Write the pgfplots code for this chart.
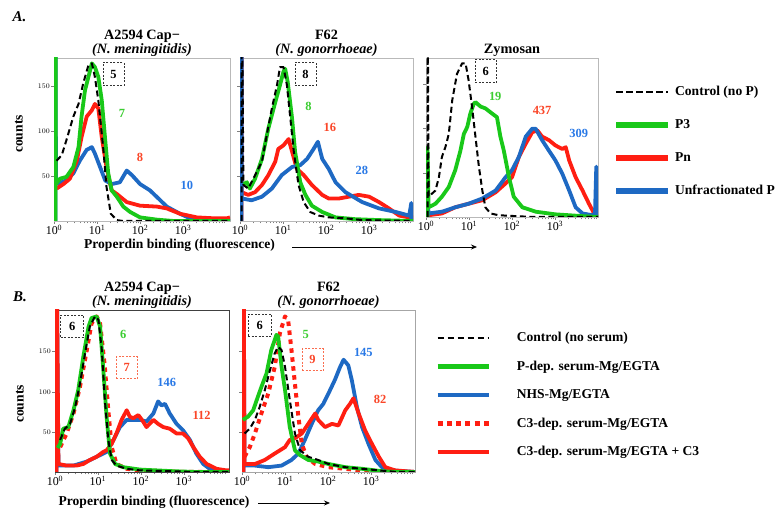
\documentclass[border=0pt]{standalone}
\usepackage{fontspec}
\setmainfont{Liberation Serif}
\usepackage{pgfplots}
\pgfplotsset{compat=1.18}
\usetikzlibrary{arrows.meta}

\definecolor{cG}{RGB}{25,200,25}
\definecolor{cR}{RGB}{255,30,18}
\definecolor{cB}{RGB}{30,105,195}
\definecolor{tG}{RGB}{60,205,50}
\definecolor{tR}{RGB}{250,70,40}
\definecolor{tB}{RGB}{40,120,230}
\definecolor{rbox}{RGB}{250,110,80}

\newcommand{\ttlfont}{\fontsize{14.3}{14}\selectfont\bfseries}
\newcommand{\labfont}{\fontsize{13.6}{14}\selectfont\bfseries}
\newcommand{\numfont}{\fontsize{12.5}{13}\selectfont\bfseries}

\pgfplotsset{
  hist/.style={
    scale only axis, anchor=south west,
    xmin=0, ymin=0,
    xtick={0,1,2,3},
    xticklabels={10\textsuperscript{0},10\textsuperscript{1},10\textsuperscript{2},10\textsuperscript{3}},
    minor xtick={0.301,0.477,0.602,0.699,0.778,0.845,0.903,0.954,
                 1.301,1.477,1.602,1.699,1.778,1.845,1.903,1.954,
                 2.301,2.477,2.602,2.699,2.778,2.845,2.903,2.954,
                 3.301,3.477,3.602,3.699,3.778,3.845,3.903,3.954},
    ytick={50,100,150},
    tick align=outside, xtick pos=bottom, ytick pos=left,
    major tick length=3bp, minor tick length=2.5bp,
    tick style={gray, line width=0.5bp},
    xticklabel style={font=\fontsize{12}{12}\selectfont, inner sep=1bp},
    yticklabel style={font=\fontsize{7}{7}\selectfont, inner sep=1bp},
    axis line style={gray!55, line width=0.8bp},
    clip mode=individual,
    title style={font=\ttlfont, align=center, inner sep=0bp, yshift=-4.5bp},
    legend cell align=left,
  },
  ctl/.style={black, line width=2bp, dash pattern=on 6bp off 3.5bp},
  grn/.style={cG, line width=3.8bp},
  rd/.style={cR, line width=3.8bp},
  bl/.style={cB, line width=3.8bp},
  rdot/.style={cR, line width=4bp, dash pattern=on 4.5bp off 4.5bp},
  every axis plot/.append style={no marks, forget plot, line join=round},
}

\begin{document}
\begin{tikzpicture}
\path[use as bounding box] (0,0) rectangle (776bp,512bp);

%---------------- A1
\begin{axis}[hist, at={(54bp,291bp)}, width=176bp, height=163bp,
  xmax=4.09, ymax=181,
  title={A2594 Cap−\\\textit{(N. meningitidis)}}]
\addplot[bl] coordinates {(0.035,0)(0.035,300)(0.045,41)(0.29,45)(0.45,53)(0.60,67)(0.76,79)(0.88,82)(0.95,75)(1.07,60)(1.19,45)(1.34,41)(1.53,43)(1.69,56)(1.81,51)(2.0,41)(2.23,34)(2.47,23)(2.62,16)(2.93,8)(3.16,3)(3.55,1)(4.09,0)};
\addplot[rd] coordinates {(0.06,36)(0.22,41)(0.37,47)(0.53,67)(0.64,93)(0.76,116)(0.88,123)(0.95,130)(1.03,125)(1.11,93)(1.22,60)(1.34,34)(1.46,30)(1.69,21)(2.0,17)(2.39,16)(2.62,14)(2.93,8)(3.32,4)(3.71,3)(4.02,3)(4.09,4)};
\addplot[grn] coordinates {(0.035,0)(0.035,300)(0.04,41)(0.14,47)(0.29,49)(0.45,60)(0.57,82)(0.64,116)(0.72,145)(0.80,160)(0.88,175)(0.95,171)(1.03,160)(1.11,134)(1.19,90)(1.26,53)(1.34,34)(1.46,27)(1.61,16)(1.77,10)(2.0,4)(2.39,1.5)(2.78,0)(4.09,0)};
\addplot[ctl] coordinates {(0.06,67)(0.18,73)(0.29,90)(0.45,116)(0.57,130)(0.68,153)(0.80,173)(0.88,175)(0.95,160)(1.03,134)(1.15,78)(1.22,38)(1.32,8)(1.46,1)(1.6,0)(4.09,0)};
\node[draw=black!80, dash pattern=on 2bp off 1.5bp, line width=0.7bp, minimum width=21bp, minimum height=23bp, inner sep=0pt, font=\numfont] at (axis cs:1.38,163) {5};
\node[font=\numfont, text=tG] at (axis cs:1.58,120) {7};
\node[font=\numfont, text=tR] at (axis cs:2.0,71) {8};
\node[font=\numfont, text=tB] at (axis cs:3.09,40) {10};
\end{axis}

%---------------- A2
\begin{axis}[hist, at={(240bp,291bp)}, width=173bp, height=163bp,
  xmax=4.02, ymax=181, yticklabels={},
  title={F62\\\textit{(N. gonorrhoeae)}}]
\addplot[rd] coordinates {(0.035,0)(0.035,300)(0.04,32)(0.19,29)(0.35,32)(0.51,40)(0.66,51)(0.82,66)(0.89,80)(1.01,84)(1.13,91)(1.21,77)(1.32,58)(1.48,51)(1.67,40)(1.91,29)(2.06,25)(2.30,25)(2.53,27)(2.76,29)(3.0,27)(3.23,21)(3.46,14)(3.70,6)(3.93,4)(4.02,4)};
\addplot[bl] coordinates {(0.035,0)(0.035,300)(0.04,25)(0.27,23)(0.51,27)(0.74,36)(0.97,51)(1.21,60)(1.40,62)(1.56,69)(1.71,80)(1.81,88)(1.91,69)(2.06,58)(2.22,43)(2.45,32)(2.84,21)(3.23,14)(3.62,10)(3.93,6)(3.96,14)(3.98,20)(3.98,0)};
\addplot[grn] coordinates {(0.08,41)(0.16,43)(0.23,36)(0.35,47)(0.51,69)(0.66,103)(0.82,132)(0.93,151)(1.01,166)(1.05,169)(1.11,154)(1.21,114)(1.28,77)(1.40,43)(1.52,29)(1.67,17)(1.91,10)(2.22,4)(2.68,2)(3.23,1)(4.02,0)};
\addplot[ctl] coordinates {(0.035,0)(0.035,300)(0.08,40)(0.19,36)(0.31,47)(0.51,66)(0.62,95)(0.74,125)(0.86,151)(0.93,171)(1.01,171)(1.09,151)(1.17,114)(1.25,77)(1.36,40)(1.48,21)(1.63,10)(1.83,6)(2.06,4)(2.45,3)(2.84,1)(4.02,0)};
\node[draw=black!80, dash pattern=on 2bp off 1.5bp, line width=0.7bp, minimum width=21bp, minimum height=23bp, inner sep=0pt, font=\numfont] at (axis cs:1.52,163) {8};
\node[font=\numfont, text=tG] at (axis cs:1.59,127) {8};
\node[font=\numfont, text=tR] at (axis cs:2.09,104) {16};
\node[font=\numfont, text=tB] at (axis cs:2.83,56) {28};
\end{axis}

%---------------- A3
\begin{axis}[hist, at={(426bp,295bp)}, width=172bp, height=159bp,
  xmax=4.0, ymax=180, yticklabels={},
  title={Zymosan},
  legend style={at={(1.087,0.824)}, anchor=north west, draw=none, fill=none,
    inner sep=0pt, row sep=21bp, font=\labfont,
    nodes={inner sep=0pt, text height=9.5bp, text depth=2.5bp},
    /tikz/every odd column/.append style={column sep=4bp}},
  legend image code/.code={\draw[#1] (0bp,0bp) -- (52bp,0bp);}]
\addplot[rd] coordinates {(0.06,2)(0.37,4)(0.68,11)(0.99,15)(1.31,19)(1.62,28)(1.85,38)(2.0,45)(2.16,68)(2.32,83)(2.47,96)(2.59,98)(2.70,91)(2.86,87)(3.01,81)(3.17,77)(3.25,79)(3.33,64)(3.48,45)(3.64,30)(3.79,15)(3.91,4)(4.0,0)};
\addplot[bl] coordinates {(0.035,0)(0.035,20)(0.06,4)(0.37,6)(0.68,11)(0.99,15)(1.31,21)(1.62,30)(1.85,45)(2.0,53)(2.16,68)(2.32,91)(2.47,100)(2.55,100)(2.70,87)(2.86,75)(3.01,64)(3.17,49)(3.33,30)(3.48,11)(3.64,4)(3.87,2)(3.93,4)(3.96,57)(3.96,0)};
\addplot[grn] coordinates {(0.035,0)(0.035,79)(0.06,11)(0.22,15)(0.37,23)(0.53,34)(0.68,53)(0.80,75)(0.88,94)(0.96,102)(1.03,117)(1.11,128)(1.15,130)(1.27,125)(1.38,123)(1.54,117)(1.65,113)(1.73,91)(1.81,75)(1.93,45)(2.04,23)(2.24,11)(2.55,6)(3.01,3)(3.64,1)(4.0,0)};
\addplot[ctl] coordinates {(0.035,0)(0.035,300)(0.06,23)(0.22,30)(0.30,45)(0.37,68)(0.45,79)(0.53,94)(0.61,132)(0.72,162)(0.84,174)(0.92,174)(0.99,155)(1.07,125)(1.15,91)(1.23,57)(1.31,30)(1.38,11)(1.50,4)(1.69,2)(2.08,1)(2.5,0)(4.0,0)};
\node[draw=black!80, dash pattern=on 2bp off 1.5bp, line width=0.7bp, minimum width=21bp, minimum height=23bp, inner sep=0pt, font=\numfont] at (axis cs:1.39,165) {6};
\node[font=\numfont, text=tG] at (axis cs:1.61,136) {19};
\node[font=\numfont, text=tR] at (axis cs:2.70,121) {437};
\node[font=\numfont, text=tB] at (axis cs:3.55,95) {309};
\addlegendimage{black, line width=2bp, dash pattern=on 6.7bp off 3.3bp}
\addlegendentry{Control (no P)}
\addlegendimage{cG, line width=6bp}
\addlegendentry{P3}
\addlegendimage{cR, line width=6bp}
\addlegendentry{Pn}
\addlegendimage{cB, line width=6bp}
\addlegendentry{Unfractionated P}
\end{axis}

%---------------- B1
\begin{axis}[hist, at={(55bp,40bp)}, width=174bp, height=162bp,
  xmax=4.05, ymax=202, axis line style={black!75, line width=0.8bp},
  title={A2594 Cap−\\\textit{(N. meningitidis)}}]
\addplot[bl] coordinates {(0.035,0)(0.035,300)(0.08,8)(0.43,8)(0.74,13)(0.97,19)(1.20,25)(1.36,40)(1.51,56)(1.67,65)(1.82,65)(1.98,65)(2.13,63)(2.29,73)(2.40,88)(2.48,83)(2.56,85)(2.67,73)(2.83,60)(2.98,52)(3.14,40)(3.29,23)(3.45,10)(3.60,4)(3.84,1)(4.05,0)};
\addplot[rd] coordinates {(0.035,0)(0.035,300)(0.08,10)(0.27,8)(0.50,8)(0.66,10)(0.81,15)(0.97,19)(1.12,25)(1.20,27)(1.32,35)(1.43,48)(1.55,65)(1.67,77)(1.74,69)(1.82,67)(1.94,71)(2.05,63)(2.13,56)(2.29,65)(2.40,60)(2.52,56)(2.67,54)(2.83,48)(2.98,48)(3.10,42)(3.22,31)(3.37,19)(3.53,10)(3.76,4)(3.99,2)(4.05,2)};
\addplot[rdot] coordinates {(0.12,31)(0.27,48)(0.43,73)(0.58,106)(0.74,152)(0.85,185)(0.97,194)(1.05,185)(1.16,131)(1.24,77)(1.32,31)(1.43,10)(1.67,4)(1.98,2)(2.5,1)(3.0,0)(4.05,0)};
\addplot[grn] coordinates {(0.06,30)(0.12,35)(0.19,54)(0.31,56)(0.43,77)(0.54,102)(0.66,144)(0.78,181)(0.85,192)(0.97,194)(1.05,181)(1.12,131)(1.20,69)(1.28,23)(1.40,10)(1.59,6)(1.98,3)(2.75,1)(3.3,0)(4.05,0)};
\addplot[ctl] coordinates {(0.12,40)(0.23,54)(0.35,60)(0.47,81)(0.58,110)(0.70,148)(0.81,181)(0.93,194)(1.01,190)(1.09,152)(1.16,90)(1.24,40)(1.32,15)(1.43,8)(1.67,4)(1.98,2)(2.75,1)(3.2,0)(4.05,0)};
\node[draw=black!80, dash pattern=on 2bp off 1.5bp, line width=0.7bp, minimum width=23bp, minimum height=22bp, inner sep=0pt, font=\numfont] at (axis cs:0.40,182) {6};
\node[font=\numfont, text=tG] at (axis cs:1.59,171) {6};
\node[draw=rbox, text=tR, dash pattern=on 2bp off 1.5bp, line width=0.7bp, minimum width=21bp, minimum height=22bp, inner sep=0pt, font=\numfont] at (axis cs:1.67,130) {7};
\node[font=\numfont, text=tB] at (axis cs:2.60,112) {146};
\node[font=\numfont, text=tR] at (axis cs:3.41,71) {112};
\end{axis}

%---------------- B2
\begin{axis}[hist, at={(242bp,40bp)}, width=173bp, height=162bp,
  xmax=4.02, ymax=202, yticklabels={}, axis line style={gray!70, line width=0.8bp},
  title={F62\\\textit{(N. gonorrhoeae)}},
  legend style={at={(1.116,0.864)}, anchor=north west, draw=none, fill=none,
    inner sep=0pt, row sep=16.5bp, font=\labfont,
    nodes={inner sep=0pt, text height=9.5bp, text depth=2.5bp},
    /tikz/every odd column/.append style={column sep=26bp}},
  legend image code/.code={\draw[#1] (0bp,0bp) -- (51bp,0bp);}]
\addplot[bl] coordinates {(0.035,0)(0.035,300)(0.06,8)(0.30,8)(0.61,6)(0.92,8)(1.15,15)(1.31,23)(1.46,40)(1.62,60)(1.77,77)(1.89,85)(2.01,98)(2.16,115)(2.28,131)(2.36,140)(2.47,133)(2.55,115)(2.67,81)(2.79,56)(2.94,35)(3.10,15)(3.25,6)(3.49,2)(4.02,0)};
\addplot[rd] coordinates {(0.035,0)(0.035,300)(0.06,10)(0.30,10)(0.53,15)(0.76,23)(1.0,31)(1.11,40)(1.23,42)(1.39,48)(1.54,60)(1.70,73)(1.77,65)(1.93,56)(2.09,60)(2.24,58)(2.40,77)(2.51,85)(2.59,92)(2.71,73)(2.86,52)(3.02,35)(3.18,19)(3.33,6)(3.56,2)(4.02,0)};
\addplot[rdot] coordinates {(0.06,19)(0.18,31)(0.30,48)(0.45,73)(0.61,98)(0.76,131)(0.88,173)(1.0,194)(1.07,190)(1.15,152)(1.23,110)(1.31,69)(1.39,35)(1.50,19)(1.70,10)(2.01,6)(2.40,4)(2.79,2)(3.2,0)(4.02,0)};
\addplot[grn] coordinates {(0.02,65)(0.14,69)(0.26,77)(0.37,94)(0.45,106)(0.57,123)(0.68,152)(0.80,171)(0.84,169)(0.92,131)(1.0,102)(1.11,56)(1.23,27)(1.35,21)(1.54,15)(1.77,13)(2.01,10)(2.40,6)(2.79,4)(3.25,1)(3.6,0)(4.02,0)};
\addplot[ctl] coordinates {(0.06,48)(0.18,54)(0.30,65)(0.41,81)(0.53,102)(0.65,127)(0.76,148)(0.84,156)(0.92,152)(1.0,131)(1.11,90)(1.23,48)(1.35,27)(1.54,19)(1.77,15)(2.01,10)(2.40,6)(2.79,4)(3.18,2)(3.6,0)(4.02,0)};
\node[draw=black!80, dash pattern=on 2bp off 1.5bp, line width=0.7bp, minimum width=23bp, minimum height=22bp, inner sep=0pt, font=\numfont] at (axis cs:0.41,183) {6};
\node[font=\numfont, text=tG] at (axis cs:1.48,171) {5};
\node[draw=rbox, text=tR, dash pattern=on 2bp off 1.5bp, line width=0.7bp, minimum width=21bp, minimum height=22bp, inner sep=0pt, font=\numfont] at (axis cs:1.64,140) {9};
\node[font=\numfont, text=tB] at (axis cs:2.82,149) {145};
\node[font=\numfont, text=tR] at (axis cs:3.21,90) {82};
\addlegendimage{black, line width=1.8bp, dash pattern=on 6bp off 4bp}
\addlegendentry{Control (no serum)}
\addlegendimage{cG, line width=4.5bp}
\addlegendentry{P-dep. serum-Mg/EGTA}
\addlegendimage{cB, line width=4.5bp}
\addlegendentry{NHS-Mg/EGTA}
\addlegendimage{cR, line width=4.5bp, dash pattern=on 5bp off 4.3bp}
\addlegendentry{C3-dep. serum-Mg/EGTA}
\addlegendimage{cR, line width=4.5bp}
\addlegendentry{C3-dep. serum-Mg/EGTA + C3}
\end{axis}

%---------------- panel letters, axis labels, arrows
\node[font=\fontsize{15}{15}\selectfont\bfseries\itshape] at (19.5bp,495.5bp) {A.};
\node[font=\fontsize{15}{15}\selectfont\bfseries\itshape] at (20bp,215bp) {B.};
\node[font=\labfont, rotate=90] at (19bp,378bp) {counts};
\node[font=\labfont, rotate=90] at (20bp,108bp) {counts};
\node[font=\labfont] at (179.5bp,267bp) {Properdin binding (fluorescence)};
\draw[-{Stealth[length=6bp,width=5bp]}, line width=0.8bp] (292bp,265bp) -- (477bp,265bp);
\node[font=\labfont] at (154bp,10bp) {Properdin binding (fluorescence)};
\draw[-{Stealth[length=6bp,width=5bp]}, line width=0.8bp] (258bp,9bp) -- (330bp,9bp);
\end{tikzpicture}
\end{document}
